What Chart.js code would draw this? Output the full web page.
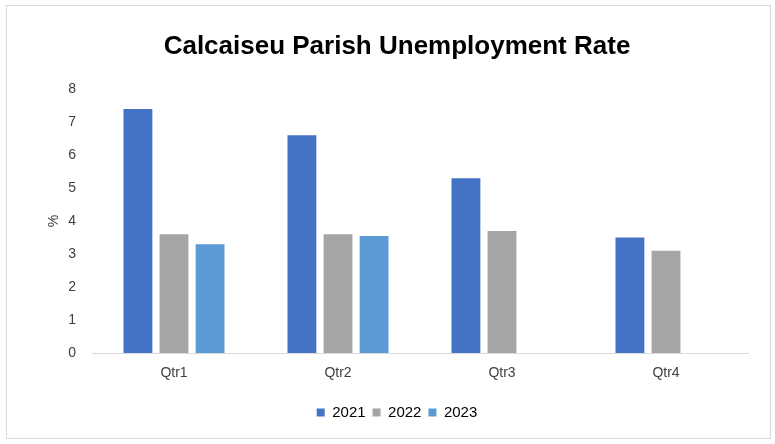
<!DOCTYPE html>
<html>
<head>
<meta charset="utf-8">
<script src="https://cdn.jsdelivr.net/npm/chart.js@4"></script>
<style>
  html, body { margin: 0; padding: 0; background: #fff; }
  #wrap {
    position: absolute; left: 6px; top: 5px;
    width: 763px; height: 432px;
    border: 1px solid #d9d9d9; background: #fff;
  }
</style>
</head>
<body>
<div id="wrap"><canvas id="chart" width="763" height="432"></canvas></div>
<script>
  var quarters = ['Qtr1', 'Qtr2', 'Qtr3', 'Qtr4'];
  var rate2021 = [7.4, 6.6, 5.3, 3.5];
  var rate2022 = [3.6, 3.6, 3.7, 3.1];
  var rate2023 = [3.3, 3.55, null, null];

  var textColor = '#404040';
  var font = 'Arial, "Liberation Sans", sans-serif';

  new Chart(document.getElementById('chart'), {
    type: 'bar',
    data: {
      labels: quarters,
      datasets: [
        { label: '2021', data: rate2021, backgroundColor: '#4472c4' },
        { label: '2022', data: rate2022, backgroundColor: '#a5a5a5' },
        { label: '2023', data: rate2023, backgroundColor: '#5b9bd5' }
      ]
    },
    options: {
      responsive: false,
      animation: false,
      layout: { padding: { left: 39, right: 22, top: 0, bottom: 8 } },
      datasets: { bar: { categoryPercentage: 0.66, barPercentage: 0.8 } },
      plugins: {
        title: {
          display: true,
          text: 'Calcaiseu Parish Unemployment Rate',
          color: '#000',
          font: { family: font, size: 26, weight: 'bold' },
          padding: { top: 25, bottom: 27 }
        },
        legend: {
          position: 'bottom',
          labels: {
            boxWidth: 8, boxHeight: 8, padding: 7,
            color: '#000',
            font: { family: font, size: 15 }
          }
        },
        tooltip: { enabled: false }
      },
      scales: {
        x: {
          grid: { display: false, drawTicks: false },
          border: { color: '#d9d9d9', width: 1 },
          ticks: { color: textColor, font: { family: font, size: 14 }, padding: 12 },
          afterFit: function (scale) { scale.height = 45; }
        },
        y: {
          min: 0, max: 8,
          grid: { display: false, drawTicks: false },
          border: { display: false },
          ticks: { stepSize: 1, color: textColor, font: { family: font, size: 14 }, padding: 16 },
          title: { display: true, text: '%', color: textColor, font: { family: font, size: 14 }, padding: 0 },
          afterFit: function (scale) { scale.width = 46; }
        }
      }
    }
  });
</script>
</body>
</html>
